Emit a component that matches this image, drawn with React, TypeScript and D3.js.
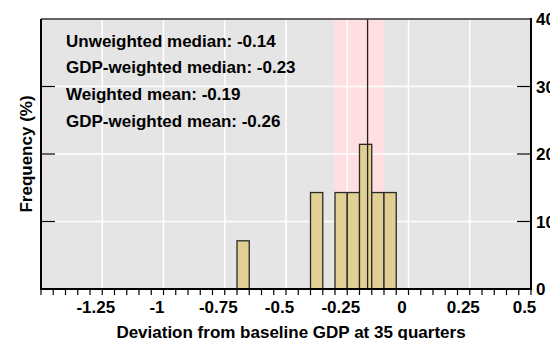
import React from 'react';
import * as d3 from 'd3';

// histogram bins (start of each 0.05-wide bin) and frequency in %
const binStarts = [-0.7, -0.4, -0.3, -0.25, -0.2, -0.15, -0.1];
const binFreq = [7.14, 14.29, 14.29, 14.29, 21.43, 14.29, 14.29];
const binWidth = 0.05;

const xTickLabels = [-1.25, -1, -0.75, -0.5, -0.25, 0, 0.25, 0.5];
const yTicks = [0, 10, 20, 30, 40];

const bandRange = [-0.305, -0.098];
const medianLine = -0.167;

const notes = [
  'Unweighted median: -0.14',
  'GDP-weighted median: -0.23',
  'Weighted mean: -0.19',
  'GDP-weighted mean: -0.26',
];

const W = 550;
const H = 340;
const margin = { top: 19, right: 19, bottom: 51, left: 41 };
const font = '"Liberation Sans", Arial, sans-serif';

const App = () => {
  const x = d3.scaleLinear().domain([-1.5, 0.5]).range([margin.left, W - margin.right]);
  const y = d3.scaleLinear().domain([0, 40]).range([H - margin.bottom, margin.top]);
  const x0 = x(-1.5), x1 = x(0.5), y0 = y(0), y1 = y(40);

  const minorTicks = d3.range(0, 41).map((i) => -1.5 + i * 0.05);
  const gridX = d3.range(0, 9).map((i) => -1.5 + i * 0.25);

  return (
    <svg width={W} height={H} style={{ position: 'absolute', left: 0, top: 0 }} fontFamily={font} fontWeight="bold">
      <rect x={x0} y={y1} width={x1 - x0} height={y0 - y1} fill="#e5e5e5" />
      <rect x={x(bandRange[0])} y={y1} width={x(bandRange[1]) - x(bandRange[0])} height={y0 - y1} fill="#ffdfe1" />

      {gridX.map((v) => (
        <line key={'gx' + v} x1={x(v)} x2={x(v)} y1={y1} y2={y0} stroke="#fff" strokeWidth={1.5} />
      ))}
      {yTicks.slice(1, -1).map((v) => (
        <line key={'gy' + v} x1={x0} x2={x1} y1={y(v)} y2={y(v)} stroke="#fff" strokeWidth={1.5} />
      ))}

      {binStarts.map((s, i) => (
        <rect
          key={'b' + i}
          x={x(s)}
          y={y(binFreq[i])}
          width={x(s + binWidth) - x(s)}
          height={y0 - y(binFreq[i])}
          fill="#e2cf93"
          stroke="#2a2a2a"
          strokeWidth={1.3}
        />
      ))}

      <line x1={x(medianLine)} x2={x(medianLine)} y1={y1} y2={y0} stroke="#222" strokeWidth={1.3} />

      {/* frame */}
      <line x1={x0} x2={x1} y1={y1} y2={y1} stroke="#333" strokeWidth={1.5} />
      <line x1={x0} x2={x0} y1={y1} y2={y0 + 1} stroke="#000" strokeWidth={2} />
      <line x1={x1} x2={x1} y1={y1 - 1} y2={y0 + 1} stroke="#000" strokeWidth={2} />
      <line x1={x0 - 1} x2={x1 + 1} y1={y0} y2={y0} stroke="#000" strokeWidth={2} />

      {minorTicks.map((v, i) => (
        <line key={'t' + i} x1={x(v)} x2={x(v)} y1={y0} y2={y0 + 6} stroke="#000" strokeWidth={1.2} />
      ))}
      {yTicks.slice(1, -1).map((v) => (
        <g key={'yt' + v}>
          <line x1={x0} x2={x0 + 14} y1={y(v)} y2={y(v)} stroke="#000" strokeWidth={1.2} />
          <line x1={x1 - 14} x2={x1} y1={y(v)} y2={y(v)} stroke="#000" strokeWidth={1.2} />
        </g>
      ))}

      {xTickLabels.map((v) => (
        <text key={'xl' + v} x={x(v) - 6.5} y={313} textAnchor="middle" fontSize={17}>
          {String(v)}
        </text>
      ))}
      {yTicks.map((v) => (
        <text key={'yl' + v} x={x1 + 5} y={y(v)} dy="0.36em" fontSize={17}>
          {v}
        </text>
      ))}

      {notes.map((t, i) => (
        <text key={'n' + i} x={66} y={46.7 + i * 26.7} fontSize={17}>
          {t}
        </text>
      ))}

      <text x={(x0 + x1) / 2 + 5} y={338} textAnchor="middle" fontSize={17}>
        Deviation from baseline GDP at 35 quarters
      </text>
      <text transform={`translate(32, ${(y0 + y1) / 2}) rotate(-90)`} textAnchor="middle" fontSize={17}>
        Frequency (%)
      </text>
    </svg>
  );
};

export default App;
